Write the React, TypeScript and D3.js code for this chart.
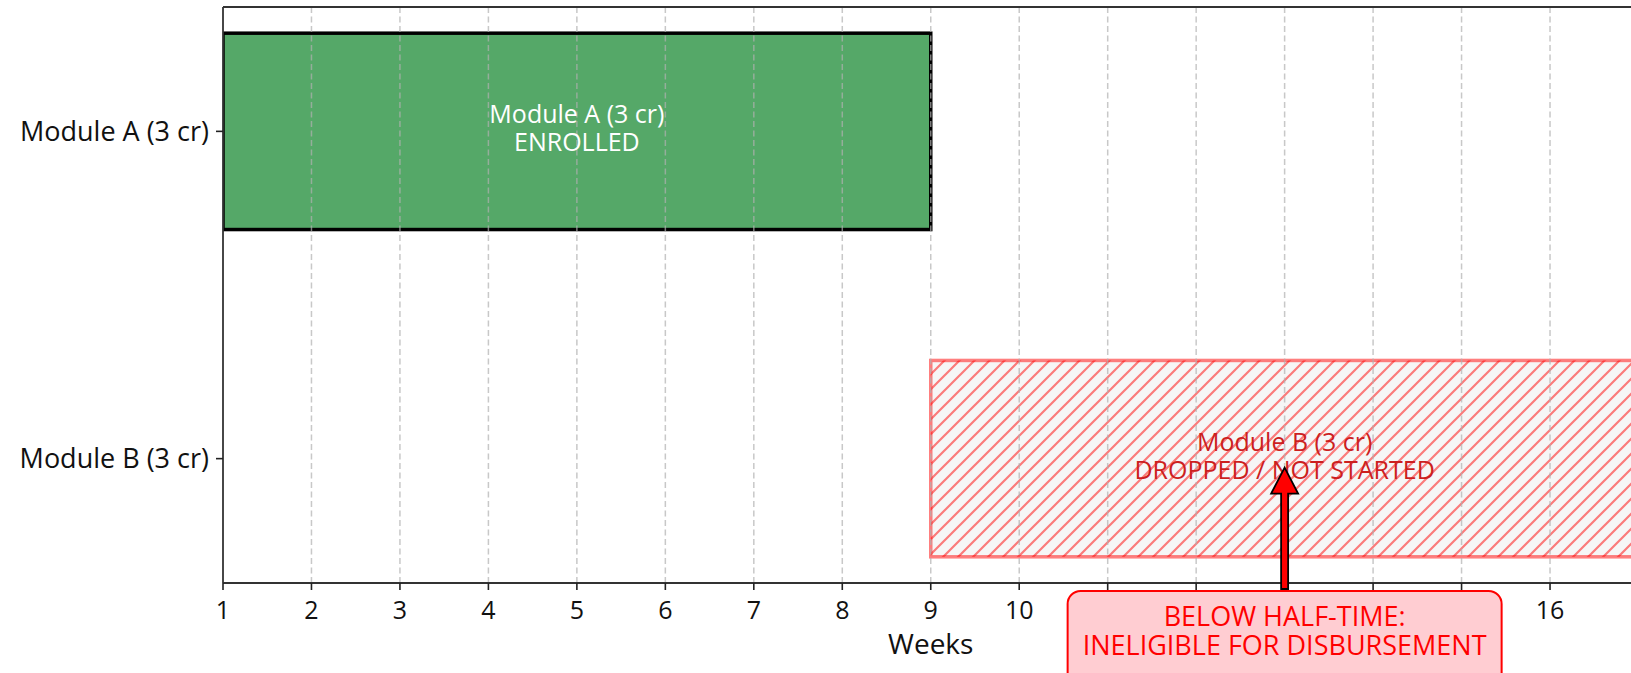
import React from "react";
import * as d3 from "d3";

const modules = ["Module A (3 cr)", "Module B (3 cr)"];
const statuses = ["ENROLLED", "DROPPED / NOT STARTED"];
const startWeeks = [1, 9];
const endWeeks = [9, 17];
const rowPos = [1, 0];
const weekTicks = [1, 2, 3, 4, 5, 6, 7, 8, 9, 10, 11, 12, 13, 14, 15, 16, 17];
const xLimits = [1, 17];
const yLimits = [-0.38, 1.38];
const barHeight = 0.6;
const arrowWeek = 13;
const noteLines = ["BELOW HALF-TIME:", "INELIGIBLE FOR DISBURSEMENT"];
const xLabel = "Weeks";

const W = 1631;
const H = 673;
const FONT = "'Open Sans', Lato, sans-serif";
const HS = 15;

export default function App() {
  const x = d3.scaleLinear().domain(xLimits).range([223, 1638.5]);
  const y = d3.scaleLinear().domain(yLimits).range([583, 7]);
  const bh = y(0) - y(barHeight);
  const top = y(yLimits[1]);
  const bottom = y(yLimits[0]);

  // arrow geometry
  const ax = x(arrowWeek);
  const tipY = y(rowPos[1]) + 9;
  const baseY = bottom + 6;
  const headLen = 26;
  const headHalf = 13.5;
  const shaftHalf = 3.5;
  const arrowPath = d3.path();
  arrowPath.moveTo(ax - shaftHalf, baseY);
  arrowPath.lineTo(ax - shaftHalf, tipY + headLen);
  arrowPath.lineTo(ax - headHalf, tipY + headLen);
  arrowPath.lineTo(ax, tipY);
  arrowPath.lineTo(ax + headHalf, tipY + headLen);
  arrowPath.lineTo(ax + shaftHalf, tipY + headLen);
  arrowPath.lineTo(ax + shaftHalf, baseY);
  arrowPath.closePath();

  const boxCx = x(arrowWeek);
  const boxW = 434;
  const boxL = boxCx - boxW / 2;
  const boxR = boxCx + boxW / 2;

  return (
    <svg
      width={W}
      height={H}
      style={{ position: "absolute", left: 0, top: 0, background: "#fff" }}
      fontFamily={FONT}
    >
      <defs>
        <pattern id="hatch" patternUnits="userSpaceOnUse" width={HS} height={HS}>
          <path
            d={`M-3,3 L3,-3 M0,${HS} L${HS},0 M${HS - 3},${HS + 3} L${HS + 3},${HS - 3}`}
            stroke="#ff0000"
            strokeWidth={2.2}
            strokeOpacity={0.5}
          />
        </pattern>
        <clipPath id="plotclip">
          <rect x={x(xLimits[0])} y={top} width={x(xLimits[1]) - x(xLimits[0])} height={bottom - top} />
        </clipPath>
      </defs>

      {/* bars */}
      <g clipPath="url(#plotclip)">
        {modules.map((m, i) => {
          const x0 = x(startWeeks[i]);
          const x1 = x(endWeeks[i]);
          const yc = y(rowPos[i]);
          if (i === 0) {
            return (
              <rect key={m} x={x0} y={yc - bh / 2} width={x1 - x0} height={bh} fill="#55a868" stroke="#000" strokeWidth={3.5} />
            );
          }
          return (
            <g key={m}>
              <rect x={x0} y={yc - bh / 2} width={x1 - x0} height={bh} fill="#f6f6f6" />
              <rect x={x0} y={yc - bh / 2} width={x1 - x0} height={bh} fill="url(#hatch)" />
              <rect x={x0} y={yc - bh / 2} width={x1 - x0} height={bh} fill="none" stroke="#ff0000" strokeOpacity={0.5} strokeWidth={3.5} />
            </g>
          );
        })}
      </g>

      {/* grid */}
      <g>
        {weekTicks
          .filter((t) => t > xLimits[0] && t < xLimits[1])
          .map((t) => (
            <line key={t} x1={x(t)} x2={x(t)} y1={top} y2={bottom} stroke="#b0b0b0" strokeOpacity={0.7} strokeWidth={1.5} strokeDasharray="6,3.5" />
          ))}
      </g>

      {/* bar texts */}
      {modules.map((m, i) => {
        const cx = (x(startWeeks[i]) + x(endWeeks[i])) / 2;
        const yc = y(rowPos[i]);
        const color = i === 0 ? "#ffffff" : "#cc1f1f";
        return (
          <text key={m} x={cx} y={yc} fill={color} fontSize={25} textAnchor="middle">
            <tspan x={cx} y={yc - 8}>{m}</tspan>
            <tspan x={cx} y={yc + 20}>{statuses[i]}</tspan>
          </text>
        );
      })}

      {/* spines */}
      <line x1={x(xLimits[0])} x2={x(xLimits[1])} y1={top} y2={top} stroke="#333" strokeWidth={1.8} />
      <line x1={x(xLimits[0])} x2={x(xLimits[1])} y1={bottom} y2={bottom} stroke="#333" strokeWidth={1.8} />
      <line x1={x(xLimits[0])} x2={x(xLimits[0])} y1={top} y2={bottom} stroke="#333" strokeWidth={1.8} />

      {/* x ticks */}
      {weekTicks.map((t) => {
        const tx = x(t);
        const hidden = (tx > boxL - 5 && tx < boxR + 5) || tx + 12 > W;
        return (
          <g key={t}>
            <line x1={tx} x2={tx} y1={bottom} y2={bottom + 7} stroke="#222" strokeWidth={1.6} />
            {!hidden && (
              <text x={tx} y={bottom + 36} fontSize={25} textAnchor="middle" fill="#111">
                {t}
              </text>
            )}
          </g>
        );
      })}
      <text x={(x(xLimits[0]) + x(xLimits[1])) / 2} y={654} fontSize={28} textAnchor="middle" fill="#111">
        {xLabel}
      </text>

      {/* y ticks */}
      {modules.map((m, i) => (
        <g key={m}>
          <line x1={x(xLimits[0]) - 7} x2={x(xLimits[0])} y1={y(rowPos[i])} y2={y(rowPos[i])} stroke="#222" strokeWidth={1.6} />
          <text x={x(xLimits[0]) - 14} y={y(rowPos[i])} dy="0.35em" fontSize={27} textAnchor="end" fill="#111">
            {m}
          </text>
        </g>
      ))}

      {/* arrow */}
      <path d={arrowPath.toString()} fill="#ff0000" stroke="#000" strokeWidth={1.8} strokeLinejoin="miter" />

      {/* annotation box */}
      <rect x={boxL} y={591} width={boxW} height={110} rx={13} ry={13} fill="#ffcdd2" stroke="#ff0000" strokeWidth={2} />
      <text x={boxCx} fontSize={27} textAnchor="middle" fill="#ff0000">
        <tspan x={boxCx} y={626}>{noteLines[0]}</tspan>
        <tspan x={boxCx} y={655}>{noteLines[1]}</tspan>
      </text>
    </svg>
  );
}
